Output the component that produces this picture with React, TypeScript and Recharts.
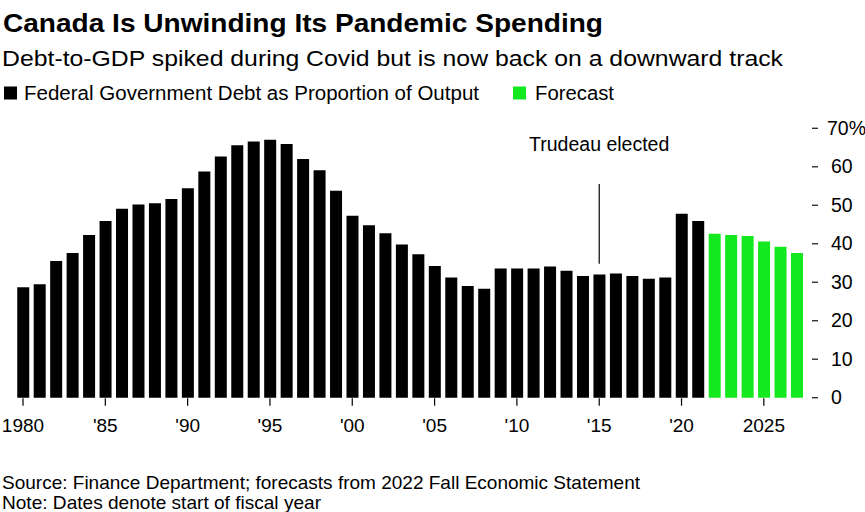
import React from "react";
import { BarChart, Bar, XAxis, YAxis, Cell, ReferenceLine, ReferenceDot } from "recharts";

const years = [
  1980, 1981, 1982, 1983, 1984, 1985, 1986, 1987, 1988, 1989,
  1990, 1991, 1992, 1993, 1994, 1995, 1996, 1997, 1998, 1999,
  2000, 2001, 2002, 2003, 2004, 2005, 2006, 2007, 2008, 2009,
  2010, 2011, 2012, 2013, 2014, 2015, 2016, 2017, 2018, 2019,
  2020, 2021, 2022, 2023, 2024, 2025, 2026, 2027,
];

const debtActual = [
  28.7, 29.5, 35.5, 37.6, 42.3, 45.9, 49.1, 50.2, 50.5, 51.6,
  54.4, 58.8, 62.7, 65.6, 66.6, 67.0, 65.9, 62.0, 59.1, 53.8,
  47.3, 44.8, 42.7, 39.8, 37.3, 34.2, 31.2, 29.0, 28.3, 33.6,
  33.6, 33.6, 34.1, 33.0, 31.6, 32.0, 32.3, 31.6, 30.9, 31.2,
  47.8, 45.9,
];

const debtForecast = [42.6, 42.3, 42.0, 40.6, 39.2, 37.6];

const yTicks = [0, 10, 20, 30, 40, 50, 60, 70];

const xTickLabels: Record<number, string> = {
  1980: "1980", 1985: "'85", 1990: "'90", 1995: "'95", 2000: "'00",
  2005: "'05", 2010: "'10", 2015: "'15", 2020: "'20", 2025: "2025",
};

const annotationYear = 2015;
const annotationText = "Trudeau elected";
const annotationLineTop = 55.5;
const annotationLineBottom = 34.8;
const annotationTextValue = 64.1;

const titleText = "Canada Is Unwinding Its Pandemic Spending";
const subtitleText = "Debt-to-GDP spiked during Covid but is now back on a downward track";
const legendActual = "Federal Government Debt as Proportion of Output";
const legendForecast = "Forecast";
const sourceText = "Source: Finance Department; forecasts from 2022 Fall Economic Statement";
const noteText = "Note: Dates denote start of fiscal year";

const BLACK = "#000000";
const GREEN = "#14e81e";
const FONT = "'Liberation Sans', Arial, Helvetica, sans-serif";

const data = years.map((year, i) => {
  const isForecast = i >= debtActual.length;
  return {
    year,
    value: isForecast ? debtForecast[i - debtActual.length] : debtActual[i],
    forecast: isForecast,
  };
});

const XTick = (props: any) => {
  const { x, y, payload } = props;
  const label = xTickLabels[payload.value];
  if (!label) return null;
  return (
    <g>
      <line x1={x} x2={x} y1={y + 0.5} y2={y + 8} stroke="#000" strokeWidth={1.2} />
      <text x={x} y={y + 34} textAnchor="middle" fontFamily={FONT} fontSize={19} fill="#000">
        {label}
      </text>
    </g>
  );
};

const YTick = (props: any) => {
  const { x, y, payload } = props;
  const isTop = payload.value === 70;
  return (
    <g>
      <line x1={x + 7} x2={x + 13} y1={y} y2={y} stroke="#222" strokeWidth={1.3} />
      <text x={isTop ? x + 22 : x + 26} y={y + 6.5} textAnchor="start" fontFamily={FONT} fontSize={19.5} fill="#000">
        {isTop ? `${payload.value}%` : payload.value}
      </text>
    </g>
  );
};

const AnnotationText = (props: any) => {
  const { cx, cy } = props;
  return (
    <text x={cx} y={cy} textAnchor="middle" fontFamily={FONT} fontSize={19.5} fill="#000">
      {annotationText}
    </text>
  );
};

export default function App() {
  return (
    <div style={{ position: "absolute", left: 0, top: 0, width: 865, height: 512, background: "#fff" }}>
      <BarChart
        width={865}
        height={512}
        data={data}
        margin={{ top: 128.3, right: 0, bottom: 0, left: 14.77 }}
        barCategoryGap="15%"
      >
        <XAxis
          dataKey="year"
          type="category"
          interval={4}
          height={114.3}
          axisLine={false}
          tickLine={false}
          tickSize={0}
          tickMargin={0}
          tick={<XTick />}
        />
        <YAxis
          orientation="right"
          width={60}
          domain={[0, 70]}
          ticks={yTicks}
          axisLine={false}
          tickLine={false}
          tickSize={0}
          tickMargin={0}
          tick={<YTick />}
        />
        <Bar dataKey="value" isAnimationActive={false}>
          {data.map((d) => (
            <Cell key={d.year} fill={d.forecast ? GREEN : BLACK} />
          ))}
        </Bar>
        <ReferenceLine
          segment={[
            { x: annotationYear, y: annotationLineTop },
            { x: annotationYear, y: annotationLineBottom },
          ]}
          stroke="#000"
          strokeWidth={1.2}
        />
        <ReferenceDot x={annotationYear} y={annotationTextValue} r={0} shape={<AnnotationText />} />
      </BarChart>
      <svg
        width={865}
        height={512}
        style={{ position: "absolute", left: 0, top: 0, pointerEvents: "none" }}
      >
        <text x={3} y={31.5} fontFamily={FONT} fontWeight="bold" fontSize={25} fill="#000" textLength={600} lengthAdjust="spacingAndGlyphs">
          {titleText}
        </text>
        <text x={2} y={66} fontFamily={FONT} fontSize={22} fill="#000" textLength={781} lengthAdjust="spacingAndGlyphs">
          {subtitleText}
        </text>
        <rect x={4} y={86.5} width={13} height={13} fill={BLACK} />
        <text x={24} y={100} fontFamily={FONT} fontSize={20} fill="#000" textLength={455} lengthAdjust="spacingAndGlyphs">
          {legendActual}
        </text>
        <rect x={513} y={86.5} width={13} height={13} fill={GREEN} />
        <text x={535} y={100} fontFamily={FONT} fontSize={20} fill="#000" textLength={79} lengthAdjust="spacingAndGlyphs">
          {legendForecast}
        </text>
        <text x={2} y={489.3} fontFamily={FONT} fontSize={18.5} fill="#000" textLength={638} lengthAdjust="spacingAndGlyphs">
          {sourceText}
        </text>
        <text x={2} y={508.5} fontFamily={FONT} fontSize={18.5} fill="#000" textLength={319} lengthAdjust="spacingAndGlyphs">
          {noteText}
        </text>
      </svg>
    </div>
  );
}
